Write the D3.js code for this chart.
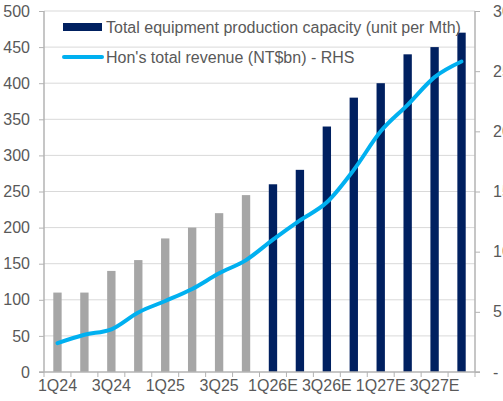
<!DOCTYPE html>
<html>
<head>
<meta charset="utf-8">
<script src="https://cdn.jsdelivr.net/npm/d3@7"></script>
<style>
  html, body { margin: 0; padding: 0; background: #fff; overflow: hidden; }
  svg { display: block; font-family: "Liberation Sans", Arial, sans-serif; }
</style>
</head>
<body>
<div id="chart"></div>
<script>
const quarters = ['1Q24', '2Q24', '3Q24', '4Q24', '1Q25', '2Q25', '3Q25', '4Q25',
  '1Q26E', '2Q26E', '3Q26E', '4Q26E', '1Q27E', '2Q27E', '3Q27E', '4Q27E'];
const forecast = [false, false, false, false, false, false, false, false,
  true, true, true, true, true, true, true, true];
const capacity = [110, 110, 140, 155, 185, 200, 220, 245, 260, 280, 340, 380, 400, 440, 450, 470];
const revenue = [2.4, 3.1, 3.55, 4.95, 5.9, 6.9, 8.2, 9.3, 11.0, 12.6, 14.1, 16.8, 20.0, 22.2, 24.5, 25.8];
const leftTicks = [0, 50, 100, 150, 200, 250, 300, 350, 400, 450, 500];
const rightTicks = [0, 5, 10, 15, 20, 25, 30];
const legendLabels = ['Total equipment production capacity (unit per Mth)', "Hon's total revenue (NT$bn) - RHS"];

const width = 503, height = 401;
const plot = { left: 44, right: 475, top: 11, bottom: 372 };
const navy = '#002060', grey = '#A6A6A6', cyan = '#00B0F0', textCol = '#595959';
const fontSize = '16px';

const svg = d3.select('#chart').append('svg')
  .attr('width', width).attr('height', height);

const x = d3.scaleBand().domain(quarters).range([plot.left, plot.right]).paddingInner(0.69).paddingOuter(0.345);
const band = d3.scaleBand().domain(quarters).range([plot.left, plot.right]);
const yL = d3.scaleLinear().domain([0, 500]).range([plot.bottom, plot.top]);
const yR = d3.scaleLinear().domain([0, 30]).range([plot.bottom, plot.top]);

// gridlines
svg.append('g').selectAll('line')
  .data(leftTicks.filter(d => d > 0))
  .join('line')
  .attr('x1', plot.left).attr('x2', plot.right)
  .attr('y1', d => yL(d)).attr('y2', d => yL(d))
  .attr('stroke', '#D9D9D9').attr('stroke-width', 1);

// bars
svg.append('g').selectAll('rect')
  .data(quarters)
  .join('rect')
  .attr('x', d => x(d))
  .attr('width', x.bandwidth())
  .attr('y', (d, i) => yL(capacity[i]))
  .attr('height', (d, i) => yL(0) - yL(capacity[i]))
  .attr('fill', (d, i) => forecast[i] ? navy : grey);

// axes
const axisCol = '#B3B3B3';
const leftAxis = svg.append('g').attr('transform', `translate(${plot.left},0)`)
  .call(d3.axisLeft(yL).tickValues(leftTicks).tickSize(5).tickPadding(9));
const rightAxis = svg.append('g').attr('transform', `translate(${plot.right},0)`)
  .call(d3.axisRight(yR).tickValues(rightTicks).tickSize(5).tickPadding(13)
    .tickFormat(d => d === 0 ? '-' : d));
const bottomAxis = svg.append('g').attr('transform', `translate(0,${plot.bottom})`)
  .call(d3.axisBottom(band).tickSize(0).tickPadding(8)
    .tickFormat((d, i) => i % 2 === 0 ? d : ''));

// category boundary tick marks
svg.append('g').selectAll('line')
  .data(quarters.concat(['end']))
  .join('line')
  .attr('x1', (d, i) => plot.left + band.step() * i)
  .attr('x2', (d, i) => plot.left + band.step() * i)
  .attr('y1', plot.bottom).attr('y2', plot.bottom + 5)
  .attr('stroke', axisCol);

[leftAxis, rightAxis, bottomAxis].forEach(a => {
  a.select('.domain').attr('stroke', axisCol).attr('stroke-width', 1.5);
  a.selectAll('.tick line').attr('stroke', axisCol);
  a.selectAll('text').attr('fill', textCol).style('font-size', fontSize)
    .style('font-family', '"Liberation Sans", Arial, sans-serif');
});
leftAxis.select('.domain').attr('d', `M0,${plot.top}V${plot.bottom}`);
rightAxis.select('.domain').attr('d', `M0,${plot.top}V${plot.bottom}`);
bottomAxis.select('.domain').attr('d', `M${plot.left - 5},0H${plot.right + 5}`);

// revenue line
const line = d3.line()
  .x((d, i) => band(quarters[i]) + band.bandwidth() / 2)
  .y(d => yR(d))
  .curve(d3.curveMonotoneX);

svg.append('path')
  .datum(revenue)
  .attr('d', line)
  .attr('fill', 'none')
  .attr('stroke', cyan)
  .attr('stroke-width', 4)
  .attr('stroke-linecap', 'round')
  .attr('stroke-linejoin', 'round');

// legend
const legend = svg.append('g');
legend.append('rect')
  .attr('x', 63).attr('y', 23).attr('width', 39).attr('height', 8)
  .attr('fill', navy);
legend.append('line')
  .attr('x1', 64).attr('x2', 102).attr('y1', 57).attr('y2', 57)
  .attr('stroke', cyan).attr('stroke-width', 4).attr('stroke-linecap', 'round');
legend.selectAll('text')
  .data(legendLabels)
  .join('text')
  .attr('x', 106)
  .attr('y', (d, i) => 33 + i * 30)
  .attr('fill', textCol)
  .style('font-size', fontSize)
  .text(d => d);
</script>
</body>
</html>
